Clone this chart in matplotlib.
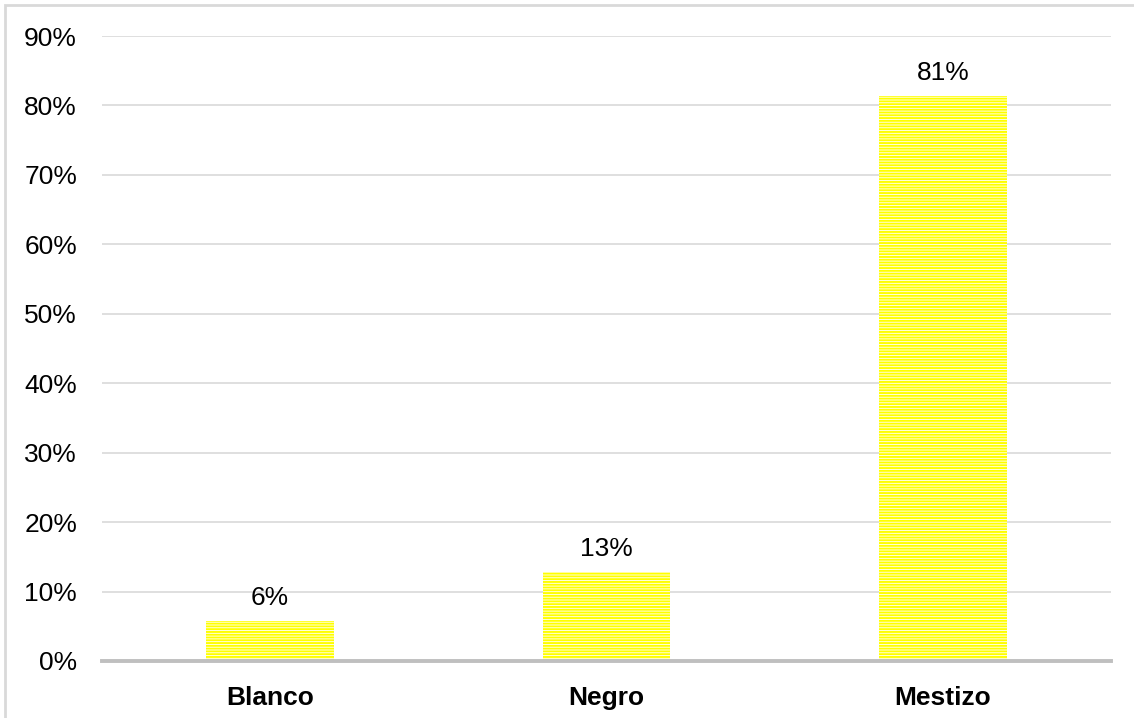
import numpy as np
import matplotlib.pyplot as plt
from matplotlib.patches import Rectangle
from matplotlib.ticker import PercentFormatter

categories = ['Blanco', 'Negro', 'Mestizo']
values = [0.058, 0.128, 0.814]
labels = ['6%', '13%', '81%']
yticks = np.arange(0, 0.91, 0.1)

plt.rcParams['font.family'] = ['Liberation Sans', 'DejaVu Sans']
plt.rcParams['hatch.linewidth'] = 1.4

fig = plt.figure(figsize=(11.34, 7.18), dpi=100)
fig.patches.append(Rectangle((5 / 1134, -0.1), 1.2, (713 + 72) / 718,
                             transform=fig.transFigure, fill=False,
                             edgecolor='#D9D9D9', linewidth=2))
ax = fig.add_axes([102 / 1134, 57 / 718, 1009 / 1134, 625 / 718])

x = np.arange(len(categories))
ax.bar(x, values, width=0.38, color='white', edgecolor='#FFFF00',
       linewidth=0, hatch='------', zorder=3)
for xi, v, lab in zip(x, values, labels):
    ax.annotate(lab, (xi, v), xytext=(0, 8), textcoords='offset points',
                ha='center', va='bottom', fontsize=19, color='#000000')

ax.set_xlim(-0.5, 2.5)
ax.set_ylim(0, 0.9)
ax.set_yticks(yticks)
ax.yaxis.set_major_formatter(PercentFormatter(1.0, decimals=0))
ax.set_xticks(x)
ax.set_xticklabels(categories, fontweight='bold')
ax.tick_params(axis='y', length=0, pad=18, labelsize=19)
ax.tick_params(axis='x', length=0, pad=18, labelsize=19)
ax.grid(axis='y', color='#D9D9D9', linewidth=1.2, zorder=0)
for s in ['top', 'right', 'left']:
    ax.spines[s].set_visible(False)
ax.spines['bottom'].set_color('#BFBFBF')
ax.spines['bottom'].set_linewidth(2.8)
ax.spines['bottom'].set_zorder(4)

fig.savefig('out.png', dpi=100)
